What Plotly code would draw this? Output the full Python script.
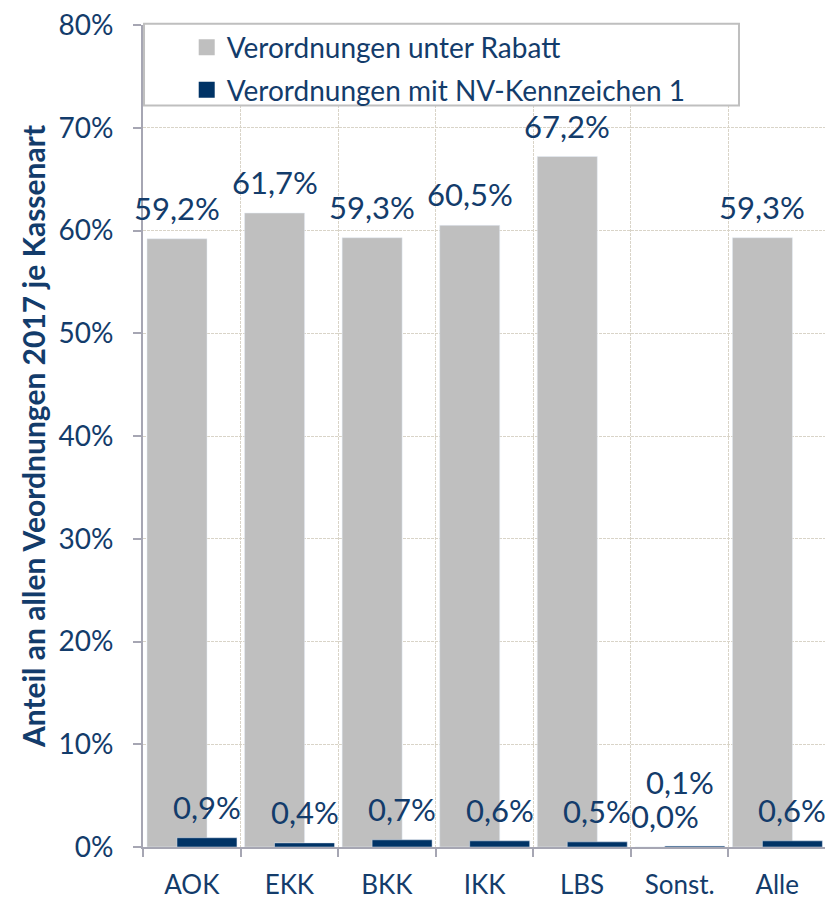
import plotly.graph_objects as go

categories = ["AOK", "EKK", "BKK", "IKK", "LBS", "Sonst.", "Alle"]
rabatt = [0.592, 0.617, 0.593, 0.605, 0.672, 0.000, 0.593]
nv_kennzeichen = [0.009, 0.004, 0.007, 0.006, 0.005, 0.001, 0.006]
series_names = ["Verordnungen unter Rabatt", "Verordnungen mit NV-Kennzeichen 1"]
y_ticks = [0, 0.1, 0.2, 0.3, 0.4, 0.5, 0.6, 0.7, 0.8]

TXT = "#133C6B"
GREY = "#BFBFBF"
NAVY = "#003366"
AXIS = "#A6A6B3"
GRID = "#D9D4C8"
FONT = "Lato"

BAR_W = 0.615
OFF_GREY = -0.459
OFF_NAVY = -0.152
CAT_PX = 97.6  # pixel width of one category


def fmt(v):
    return f"{v * 100:.1f}%".replace(".", ",")


fig = go.Figure()
fig.add_trace(go.Bar(
    x=categories, y=rabatt, name=series_names[0], marker_color=GREY,
    width=BAR_W, offset=OFF_GREY, showlegend=False, cliponaxis=False,
))
fig.add_trace(go.Bar(
    x=categories, y=nv_kennzeichen, name=series_names[1], marker_color=NAVY,
    width=BAR_W, offset=OFF_NAVY, showlegend=False, cliponaxis=False,
))
# legend swatches
for nm, col in zip(series_names, [GREY, NAVY]):
    fig.add_trace(go.Scatter(
        x=[None], y=[None], mode="markers", name=nm, legendgroup=nm,
        marker=dict(symbol="square", size=17, color=col),
    ))

# value labels
annotations = []
grey_dx = (OFF_GREY + BAR_W / 2) * CAT_PX
navy_dx = (OFF_NAVY + BAR_W / 2) * CAT_PX
for c, r, n in zip(categories, rabatt, nv_kennzeichen):
    annotations.append(dict(
        x=c, y=r, xref="x", yref="y", text=fmt(r), showarrow=False,
        xshift=grey_dx, yshift=31, yanchor="middle",
        font=dict(family=FONT, size=31, color=TXT),
    ))
    crowded = r < 0.02
    annotations.append(dict(
        x=c, y=n, xref="x", yref="y", text=fmt(n), showarrow=False,
        xshift=0 if crowded else navy_dx, yshift=64 if crowded else 31,
        yanchor="middle", font=dict(family=FONT, size=31, color=TXT),
    ))

fig.update_layout(
    width=825, height=894,
    barmode="overlay",
    separators=",.",
    paper_bgcolor="white", plot_bgcolor="white",
    margin=dict(l=135, r=7, t=17, b=55, autoexpand=False),
    font=dict(family=FONT, size=28, color=TXT),
    annotations=annotations,
    legend=dict(
        x=0.064, y=1.003, xanchor="left", yanchor="top",
        bgcolor="rgba(0,0,0,0)", borderwidth=0,
        font=dict(family=FONT, size=28, color=TXT),
        tracegroupgap=3, itemsizing="trace",
    ),
    shapes=[dict(
        type="rect", xref="paper", yref="paper",
        x0=0.0015, x1=0.8726, y0=0.902, y1=1.0015,
        fillcolor="white", line=dict(color=GREY, width=2), layer="above",
    )],
)
fig.update_xaxes(
    type="category", tickson="boundaries", ticks="outside", ticklen=8,
    tickcolor=AXIS, tickwidth=2, showline=True, linecolor=AXIS, linewidth=2,
    showgrid=True, gridcolor=GRID, griddash="3px,1px", gridwidth=1,
    tickfont=dict(family=FONT, size=26, color=TXT), range=[-0.5, 6.5],
    automargin=False, ticklabelstandoff=14, ticklabeloverflow="allow",
)
fig.update_yaxes(
    range=[0, 0.8], tickvals=y_ticks, tickformat=".0%", ticks="outside",
    ticklen=8, tickcolor=AXIS, tickwidth=2, showline=True, linecolor=AXIS,
    linewidth=2, showgrid=True, gridcolor=GRID, griddash="3px,1px", gridwidth=1,
    zeroline=False, tickfont=dict(family=FONT, size=28, color=TXT),
    automargin=False, ticklabelstandoff=14, ticklabeloverflow="allow",
    title=dict(text="<b>Anteil an allen Veordnungen 2017 je Kassenart</b>",
               font=dict(family=FONT, size=30, color=TXT), standoff=4),
)

fig.write_html("out.html")
